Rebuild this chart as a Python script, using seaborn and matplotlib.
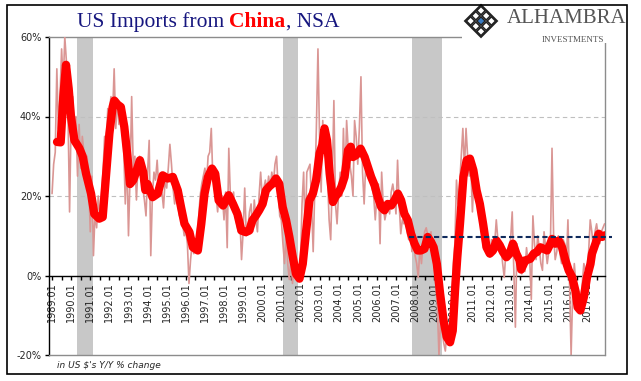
import matplotlib
matplotlib.use("Agg")
import matplotlib.pyplot as plt
import numpy as np
import pandas as pd
import seaborn as sns
from matplotlib.patches import Polygon, Rectangle
from matplotlib.ticker import FixedLocator

# ---------------- data ----------------
first_year = 1989
# monthly Y/Y % change, one row per year (Jan..Dec)
yoy_monthly = [
    20.6, 28, 31, 52, 37, 45, 57, 48, 60, 54, 41, 16,        # 1989
    40, 45, 34, 40, 25, 38, 27, 35, 31, 25, 30, 24,          # 1990
    11, 25, 5, 16, 12, 20, 15, 20, 26, 35, 32, 42,           # 1991
    41, 45, 40, 52, 37, 44, 38, 42, 37, 32, 18, 30,          # 1992
    10, 25, 45, 27, 30, 19, 28, 30, 24, 22, 19, 15,          # 1993
    26, 34, 5, 20, 26, 24, 29, 22, 20, 21, 17, 24,           # 1994
    22, 27, 33, 28, 22, 18, 22, 18, 15, 16, 13, 10,          # 1995
    11, 8, -2, 4, 8, 5.5, 7, 10, 14, 20, 23, 25,             # 1996
    27, 23, 30, 31, 37, 24, 26, 20, 16, 22, 18, 20,          # 1997
    14, 21, 7, 32, 20, 18, 21, 15, 13, 11, 14, 4,            # 1998
    11, 22, 10, 12, 16, 18, 11, 19, 14, 11, 20, 26,          # 1999
    20, 22, 24, 21, 25, 22, 26, 23, 28, 30, 22, 15,          # 2000
    14, 8, 3, 10, 3, -1, 4, -2, 3, 1, -1, 0.5,               # 2001
    3, 18, 26, 10, 26, 27, 28, 18, 6, 21, 37, 57,            # 2002
    35, 21, 39, 31, 34, 25, 14, 9, 24, 44, 18, 13,           # 2003
    21, 26, 20, 37, 23, 39, 32, 28, 25, 20, 39, 35,          # 2004
    28, 37, 50, 26, 18, 28, 25, 26, 24, 22, 20, 14,          # 2005
    20, 23, 8, 26, 18, 14, 16, 18, 15.5, 21, 23, 20,         # 2006
    15.5, 29, 18, 10.5, 14, 13, 15, 11, 9, 11, 6, 10,        # 2007
    5, 3, -0.5, 7, 3, 8, 11, 12, 10, 8, 11, 6,               # 2008
    3, -2, -8, -20, -11, -14, -17, -19, -14, -16, -12, -7,   # 2009
    3, 8, 24, 18, 23, 30, 37, 27, 37, 30, 25, 28,            # 2010
    16, 25, 20, 22, 15, 16, 10, 7, 11, 5.5, 7, 4.6,          # 2011
    9, 7, 8, 14, 9, 6, 7, 3, -0.5, 6, 4, 7,                  # 2012
    9, 16, 1, -13, 8, 4.6, 3, 0.4, 4.6, 1, 7, 3,             # 2013
    4, -6, 15, 8, 4, 10, 7, 3, 1.3, 11, 7, 3,                # 2014
    6, 8, 32, 10, 4, 6, 10, 5.5, 3, 9, 8, 3,                 # 2015
    14, -2, -20, -4, 3, -2, -7, -4, -7, -2, 3, 1.3,          # 2016
    1.3, 6, 14, 11, 7, 11, 13, 10, 8, 11, 12, 13,            # 2017
]

# smoothed (moving average) series: decimal year / value
smooth_t = [1989.26, 1989.45, 1989.59, 1989.73, 1989.87, 1989.99, 1990.17, 1990.43,
            1990.60, 1990.78, 1991.04, 1991.21, 1991.47, 1991.65, 1991.82, 1992.00,
            1992.17, 1992.26, 1992.43, 1992.60, 1992.78, 1992.95, 1993.08, 1993.25,
            1993.43, 1993.60, 1993.77, 1993.88, 1994.00, 1994.26, 1994.53, 1994.79,
            1995.05, 1995.32, 1995.58, 1995.75, 1995.93, 1996.19, 1996.37, 1996.63,
            1996.81, 1996.98, 1997.16, 1997.37, 1997.54, 1997.72, 1997.95, 1998.25,
            1998.47, 1998.70, 1998.91, 1999.14, 1999.32, 1999.49, 1999.67, 1999.84,
            2000.02, 2000.19, 2000.37, 2000.54, 2000.72, 2000.89, 2001.07, 2001.25,
            2001.42, 2001.60, 2001.77, 2001.95, 2002.12, 2002.30, 2002.47, 2002.65,
            2002.82, 2003.00, 2003.14, 2003.26, 2003.39, 2003.53, 2003.70, 2003.85,
            2003.97, 2004.14, 2004.31, 2004.49, 2004.63, 2004.75, 2004.92, 2005.15,
            2005.36, 2005.53, 2005.70, 2005.88, 2006.05, 2006.23, 2006.40, 2006.57,
            2006.75, 2006.92, 2007.10, 2007.27, 2007.44, 2007.62, 2007.79, 2007.97,
            2008.14, 2008.31, 2008.49, 2008.66, 2008.83, 2008.97, 2009.14, 2009.31,
            2009.49, 2009.66, 2009.83, 2009.97, 2010.09, 2010.21, 2010.35, 2010.53,
            2010.70, 2010.87, 2011.05, 2011.22, 2011.39, 2011.56, 2011.74, 2011.91,
            2012.08, 2012.26, 2012.43, 2012.60, 2012.78, 2012.95, 2013.12, 2013.30,
            2013.47, 2013.55, 2013.77, 2014.03, 2014.21, 2014.38, 2014.56, 2014.73,
            2014.91, 2015.08, 2015.17, 2015.34, 2015.52, 2015.69, 2015.87, 2016.04,
            2016.22, 2016.39, 2016.51, 2016.65, 2016.83, 2017.00, 2017.18, 2017.26,
            2017.44, 2017.61, 2017.79, 2017.92]
smooth_v = [33.6, 33.5, 45, 53, 47, 40, 34, 32,
            30, 25.6, 20.6, 15.5, 14.3, 14.7, 24.8, 35.7,
            42.4, 44, 43, 42.4, 37.4, 29.8, 23, 24,
            26.5, 29, 26, 21.5, 23, 19.7, 20.6, 25.2,
            24.4, 24.8, 21.4, 17.2, 13, 10.9, 7.1, 6.3,
            13, 20.6, 24.8, 26.9, 25.6, 18.9, 17.6, 20.2,
            18, 15.5, 11.3, 10.9, 11.3, 13.9, 15.1, 16.4,
            18, 21.4, 22.4, 23.1, 24.4, 23.1, 17.2, 13.9,
            9.7, 4.6, 0.4, -0.8, 2.9, 11.3, 18.9, 20.6,
            24, 30.7, 32.8, 37, 34, 25.6, 18.5, 20.0,
            20.6, 22.3, 24.8, 31.5, 32.4, 29.8, 30.3, 31.9,
            29.8, 27.3, 24.8, 22.7, 19.7, 17.2, 16.4, 18,
            17.6, 18.9, 20.6, 18.9, 15.5, 13.9, 10.5, 8,
            6.3, 6.3, 6.7, 9.7, 8.5, 7.1, 2.9, -4.6,
            -11.3, -15.5, -16.8, -13.9, -3.8, 4.6, 13, 24.8,
            29, 29.4, 26.5, 21.4, 18, 13, 7.1, 5.5,
            6.3, 8.8, 7.6, 5.9, 4.6, 5.5, 8, 5.5,
            3.8, 1.5, 3.8, 4.2, 5.5, 5.9, 7.1, 6.7,
            6.3, 8, 9.2, 8, 8.8, 7.1, 3.8, 1.3,
            -0.4, -3.8, -8, -8.8, -5.5, -0.4, 2.9, 5.5,
            8, 10.5, 9.7, 10.1]

recession_start = [1990.32, 2001.07, 2007.86]
recession_end = [1991.13, 2001.85, 2009.43]

benchmark_level = 9.7
benchmark_from = 2007.7
benchmark_to = 2018.3

year_ticks = list(range(1989, 2018))
tick_labels = [f"{y}.01" for y in year_ticks]
y_ticks = [-20, 0, 20, 40, 60]
y_tick_labels = ["-20%", "0%", "20%", "40%", "60%"]

# ---------------- style ----------------
sns.set_style("white")
plt.rcParams["font.family"] = ["DejaVu Sans"]

W, H = 641, 381
fig = plt.figure(figsize=(W / 100, H / 100), dpi=100)
fig.patch.set_facecolor("white")


def fx(px):
    return px / W


def fy(py):
    return 1 - py / H


ax = fig.add_axes([fx(49), fy(355), fx(605) - fx(49), fy(37) - fy(355)])
ax.set_facecolor("white")

df = pd.DataFrame({"date": first_year + np.arange(len(yoy_monthly)) / 12.0,
                   "yoy": yoy_monthly})
sm = pd.DataFrame({"date": smooth_t, "avg": smooth_v})

for s, e in zip(recession_start, recession_end):
    ax.axvspan(s, e, color="#C8C8C8", lw=0, zorder=0)
for g in (20, 40):
    ax.axhline(g, color="#BFBFBF", lw=0.8, ls=(0, (4, 3)), zorder=0.5)

sns.lineplot(data=df, x="date", y="yoy", ax=ax, color="#DA9694", lw=1.2,
             zorder=2.6, estimator=None)
sns.lineplot(data=sm, x="date", y="avg", ax=ax, color="#FF0000", lw=6,
             zorder=3, estimator=None, solid_capstyle="round",
             solid_joinstyle="round")
ax.plot([benchmark_from, benchmark_to], [benchmark_level, benchmark_level],
        color="#0F2A5C", lw=1.5, ls=(0, (2.5, 1.5)), zorder=4, clip_on=False)

ax.set_xlim(1988.84, 2017.94)
ax.set_ylim(-20, 60)
ax.set_xlabel("")
ax.set_ylabel("")

ax.spines["bottom"].set_position(("data", 0))
ax.spines["bottom"].set_color("black")
ax.spines["bottom"].set_linewidth(1)
ax.spines["left"].set_color("black")
ax.spines["left"].set_linewidth(1)
for side in ("right", "top"):
    ax.spines[side].set_color("#8C8C8C")
    ax.spines[side].set_linewidth(1)
ax.axhline(-20, color="#8C8C8C", lw=1, clip_on=False, zorder=5)

ax.set_xticks(year_ticks)
ax.set_xticklabels(tick_labels, rotation=90, fontsize=7)
ax.xaxis.set_minor_locator(FixedLocator([y + 0.5 for y in year_ticks]))
ax.tick_params(axis="x", which="both", direction="out", length=3, width=1,
               color="black", pad=2, bottom=True)
ax.set_yticks(y_ticks)
ax.set_yticklabels(y_tick_labels, fontsize=7)
ax.tick_params(axis="y", direction="out", length=3, width=1, color="black",
               pad=2.5, left=True)

# outer border
fig.add_artist(Rectangle((fx(7), fy(374)), fx(627) - fx(7), fy(5) - fy(374),
                         fill=False, ec="black", lw=1.2,
                         transform=fig.transFigure, zorder=20))

# logo area
fig.add_artist(Rectangle((fx(462), fy(43)), fx(626) - fx(462), fy(6) - fy(43),
                         fc="white", ec="none", transform=fig.transFigure,
                         zorder=10))
cxp, cyp, R = 481, 21, 16
fig.add_artist(Polygon([(fx(cxp - R), fy(cyp)), (fx(cxp), fy(cyp - R)),
                        (fx(cxp + R), fy(cyp)), (fx(cxp), fy(cyp + R))],
                       closed=True, fc="white", ec="#222222", lw=1.4,
                       transform=fig.transFigure, zorder=11))
step = 5.2
r_small = 4.2
for i in (-1, 0, 1):
    for j in (-1, 0, 1):
        px = cxp + (i - j) * step
        py = cyp + (i + j) * step
        fc = "#3A7CC3" if (i == 0 and j == 0) else "white"
        fig.add_artist(Polygon([(fx(px - r_small), fy(py)), (fx(px), fy(py - r_small)),
                                (fx(px + r_small), fy(py)), (fx(px), fy(py + r_small))],
                               closed=True, fc=fc, ec="#222222", lw=1.1,
                               transform=fig.transFigure, zorder=12))
fig.text(fx(507), fy(23), "ALHAMBRA", family="Liberation Serif", fontsize=15,
         color="#555555", va="baseline", ha="left", zorder=13)
fig.text(fx(573), fy(42), "INVESTMENTS", family="Liberation Serif", fontsize=6.5,
         color="#555555", va="baseline", ha="center", zorder=13)

# title in three colored parts
renderer = fig.canvas.get_renderer()
parts = [("US Imports from ", "#16167F", "normal"),
         ("China", "#FF0000", "bold"),
         (", NSA", "#16167F", "normal")]
texts, widths = [], []
for s, c, w in parts:
    t = fig.text(0, fy(27), s, color=c, fontweight=w, fontsize=15.5,
                 family="Liberation Serif", va="baseline", ha="left")
    widths.append(t.get_window_extent(renderer=renderer).width)
    texts.append(t)
x0 = 208 - sum(widths) / 2
for t, w in zip(texts, widths):
    t.set_x(fx(x0))
    x0 += w

fig.text(fx(57), fy(368), "in US \\$'s Y/Y % change", fontsize=6.5,
         style="italic", color="#262626", va="baseline", ha="left")

fig.savefig("out.png", dpi=100)
